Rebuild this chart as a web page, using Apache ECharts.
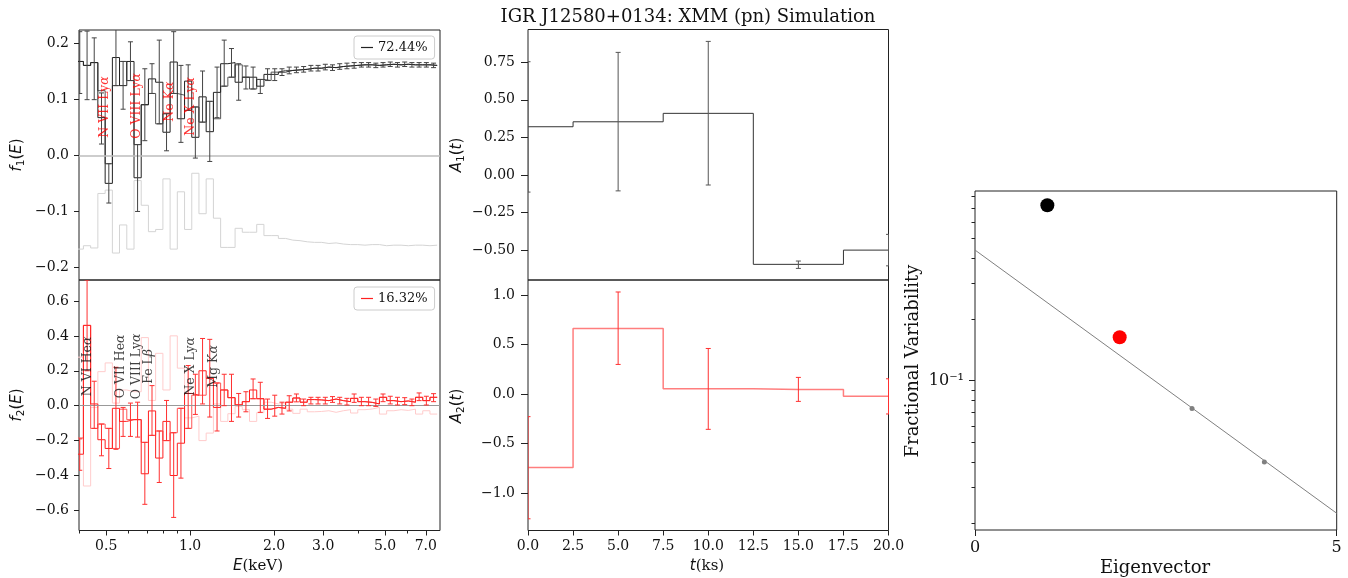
<!DOCTYPE html>
<html>
<head>
<meta charset="utf-8">
<script src="https://cdn.jsdelivr.net/npm/echarts@6/dist/echarts.min.js"></script>
<style>
html,body{margin:0;padding:0;background:#fff;}
#chart{width:1348px;height:578px;}
</style>
</head>
<body>
<div id="chart"></div>
<script>
// 能量 bin 中心 (keV)
var energy = [0.402,0.427,0.453,0.481,0.511,0.542,0.575,0.611,0.648,0.688,0.730,0.775,0.823,0.873,0.927,0.984,1.044,1.108,1.176,1.249,1.325,1.407,1.493,1.585,1.682,1.785,1.895,2.011,2.135,2.266,2.405,2.553,2.710,2.876,3.053,3.240,3.439,3.650,3.874,4.112,4.365,4.633,4.917,5.219,5.540,5.880,6.241,6.624,7.031,7.463];
// f1(E)
var f1 = [0.167,0.160,0.165,0.067,-0.050,0.174,0.124,0.167,-0.040,0.090,0.136,0.130,0.041,0.166,0.065,0.132,0.032,0.104,0.042,0.112,0.163,0.165,0.130,0.139,0.139,0.123,0.144,0.144,0.148,0.151,0.152,0.153,0.155,0.155,0.157,0.156,0.158,0.159,0.160,0.161,0.161,0.160,0.161,0.162,0.161,0.162,0.161,0.161,0.161,0.160];
var f1Edge = [0.167,0.160,0.165,0.115,-0.015,0.124,0.167,0.133,0.019,0.090,0.110,0.056,0.074,0.110,0.107,0.080,0.086,0.059,0.096,0.065,0.123,0.139,0.161,0.139,0.118,0.135,0.133,0.148,0.151,0.151,0.152,0.153,0.155,0.155,0.157,0.156,0.158,0.159,0.160,0.161,0.161,0.160,0.161,0.162,0.161,0.162,0.161,0.161,0.161,0.160];
var f1Lo = [0.110,0.099,0.099,0.020,-0.085,0.124,0.082,0.133,-0.100,0.026,0.110,0.056,0.008,0.110,0.023,0.080,-0.005,0.059,-0.011,0.067,0.123,0.139,0.098,0.118,0.118,0.110,0.133,0.133,0.142,0.145,0.147,0.148,0.150,0.150,0.152,0.151,0.153,0.154,0.155,0.157,0.157,0.156,0.157,0.158,0.157,0.158,0.157,0.157,0.157,0.156];
var f1Hi = [0.220,0.221,0.209,0.111,-0.015,0.230,0.167,0.202,0.019,0.154,0.163,0.205,0.074,0.220,0.160,0.161,0.086,0.150,0.096,0.157,0.205,0.190,0.163,0.159,0.157,0.135,0.154,0.154,0.154,0.157,0.157,0.158,0.160,0.160,0.162,0.161,0.163,0.164,0.165,0.165,0.165,0.164,0.165,0.166,0.165,0.166,0.165,0.165,0.165,0.164];
var f1Ref = [-0.167,-0.161,-0.165,-0.068,-0.062,-0.174,-0.124,-0.167,-0.045,-0.089,-0.136,-0.132,-0.042,-0.167,-0.065,-0.132,-0.032,-0.104,-0.042,-0.112,-0.164,-0.164,-0.130,-0.137,-0.137,-0.123,-0.143,-0.143,-0.148,-0.151,-0.152,-0.154,-0.155,-0.155,-0.157,-0.156,-0.158,-0.159,-0.159,-0.160,-0.159,-0.159,-0.161,-0.160,-0.160,-0.161,-0.160,-0.160,-0.161,-0.160];
// f2(E)
var f2 = [-0.278,0.460,0.010,-0.195,-0.245,-0.015,-0.090,-0.080,-0.080,-0.390,-0.030,-0.300,-0.090,-0.400,-0.215,0.070,0.060,0.200,0.157,-0.010,0.090,0.046,0.005,0.023,0.090,0.040,-0.020,-0.010,-0.015,0.020,0.044,0.020,0.035,0.033,0.029,0.038,0.029,0.023,0.042,0.023,0.019,0.010,0.048,0.029,0.023,0.027,0.020,0.048,0.029,0.048];
var f2Edge = [-0.185,0.460,-0.130,-0.105,-0.130,-0.245,-0.020,-0.080,-0.080,-0.210,-0.170,-0.145,-0.200,-0.155,-0.015,-0.130,0.060,0.060,0.157,0.130,0.090,0.046,0.005,0.023,0.040,0.040,-0.020,-0.010,-0.015,0.020,0.044,0.020,0.035,0.033,0.029,0.038,0.029,0.023,0.042,0.023,0.019,0.010,0.048,0.029,0.023,0.027,0.020,0.048,0.029,0.048];
var f2Lo = [-0.370,0.200,-0.130,-0.287,-0.360,-0.250,-0.176,-0.176,-0.180,-0.565,-0.170,-0.440,-0.200,-0.640,-0.415,-0.130,-0.050,0.010,-0.065,-0.145,0.000,-0.090,-0.065,-0.035,0.040,-0.038,-0.073,-0.060,-0.048,-0.030,0.022,0.000,0.010,0.010,0.010,0.019,0.010,0.004,0.019,0.000,0.000,-0.004,0.023,0.010,0.004,0.006,0.000,0.029,0.004,0.023];
var f2Hi = [-0.190,0.720,0.140,-0.105,-0.130,0.220,-0.010,0.015,0.020,-0.210,0.115,-0.145,0.030,-0.155,-0.015,0.230,0.180,0.385,0.380,0.130,0.180,0.180,0.070,0.080,0.153,0.134,0.038,0.060,0.020,0.057,0.067,0.038,0.048,0.048,0.048,0.052,0.048,0.042,0.067,0.048,0.048,0.038,0.067,0.054,0.048,0.046,0.038,0.073,0.054,0.069];
var f2Ref = [0.278,-0.460,-0.010,0.195,0.245,0.015,0.090,0.080,0.080,0.390,0.030,0.300,0.090,0.400,0.215,-0.070,-0.060,-0.200,-0.157,0.010,-0.090,-0.046,-0.005,-0.023,-0.090,-0.040,0.020,0.010,0.015,-0.020,-0.044,-0.020,-0.035,-0.033,-0.029,-0.038,-0.029,-0.023,-0.042,-0.023,-0.019,-0.010,-0.048,-0.029,-0.023,-0.027,-0.020,-0.048,-0.029,-0.048];

// 谱线标注
var lineTop = ['N VII Ly','O VIII Ly','Ne K','Ne X Ly'];
var lineTopGreek = ['α','α','α','α'];
var lineTopE = [0.494,0.646,0.848,1.008];
var lineTopY = [0.086,0.088,0.0955,0.087];
var lineBot = ['N VI He','O VII He','O VIII Ly','Fe L','Ne X Ly','Mg K'];
var lineBotGreek = ['α','α','α','β','α','α'];
var lineBotE = [0.428,0.566,0.646,0.713,1.008,1.219];
var lineBotY = [0.225,0.225,0.225,0.225,0.225,0.225];

// 时间轴 A(t)
var tBins = [0,5,10,15,20];
var a1 = [0.321,0.354,0.410,-0.593,-0.4985];
var a1Lo = [-0.113,-0.105,-0.066,-0.620,-0.603];
var a1Hi = [0.753,0.815,0.888,-0.571,-0.394];
var a2 = [-0.742,0.662,0.053,0.047,-0.023];
var a2Lo = [-1.259,0.299,-0.356,-0.074,-0.201];
var a2Hi = [-0.228,1.030,0.460,0.168,0.154];

// 特征值
var eigIdx = [1,2,3,4];
var eigFrac = [0.7244,0.1632,0.0730,0.0400];
var fitX = [0,5];
var fitY = [0.437,0.0224];

var legendText = ['72.44%','16.32%'];
var eTicks = [0.5,1,2,3,5,7];
var eMinor = [0.4,0.6,0.7,0.8,0.9,4,6];
var fvMinor = [0.02,0.03,0.04,0.05,0.06,0.07,0.08,0.09,0.2,0.3,0.4,0.5,0.6,0.7,0.8];

var SERIF = 'DejaVu Serif';
var SANS = 'DejaVu Sans';
var TICK = 14;
function lg(v){ return Math.log10(v); }
function minus(s){ return String(s).replace('-', '\u2212'); }

//log空间bin边界
var logE = energy.map(lg);
var edges = [];
for (var i = 0; i <= logE.length; i++)
{
	if (i == 0) edges.push(logE[0] - (logE[1] - logE[0]) / 2);
	else if (i == logE.length) edges.push(logE[i-1] + (logE[i-1] - logE[i-2]) / 2);
	else edges.push((logE[i-1] + logE[i]) / 2);
}
function histo(vals)
{
	var d = [];
	for (var i = 0; i < vals.length; i++)
	{
		d.push([edges[i], vals[i]]);
		d.push([edges[i+1], vals[i]]);
	}
	return d;
}
function zip3(x, lo, hi){ return x.map(function(v, i){ return [v, lo[i], hi[i]]; }); }

function errSeries(xi, yi, data, color, cap)
{
	return {
		type: 'custom', xAxisIndex: xi, yAxisIndex: yi, data: data, clip: true, silent: true, z: 6,
		encode: {x: 0, y: [1, 2]},
		renderItem: function(params, api)
		{
			var p1 = api.coord([api.value(0), api.value(1)]);
			var p2 = api.coord([api.value(0), api.value(2)]);
			var st = {stroke: color, lineWidth: 1};
			return {type: 'group', children: [
				{type: 'line', shape: {x1: p1[0], y1: p1[1], x2: p2[0], y2: p2[1]}, style: st},
				{type: 'line', shape: {x1: p1[0]-cap, y1: p1[1], x2: p1[0]+cap, y2: p1[1]}, style: st},
				{type: 'line', shape: {x1: p2[0]-cap, y1: p2[1], x2: p2[0]+cap, y2: p2[1]}, style: st}
			]};
		}
	};
}
function stepSeries(xi, yi, data, color, width, name)
{
	var s = {type: 'line', xAxisIndex: xi, yAxisIndex: yi, data: data, symbol: 'none', silent: true,
		lineStyle: {color: color, width: width}, itemStyle: {color: color}, z: 3};
	if (name) s.name = name;
	return s;
}
function zeroLine(color, width)
{
	return {silent: true, symbol: 'none', label: {show: false}, animation: false,
		lineStyle: {color: color, width: width, type: 'solid'}, data: [{yAxis: 0}]};
}
function annot(xi, yi, names, greek, es, ys, color)
{
	return {
		type: 'scatter', xAxisIndex: xi, yAxisIndex: yi, symbolSize: 0, silent: true, z: 8,
		data: names.map(function(n, i){ return [lg(es[i]), ys[i], n, greek[i]]; }),
		label: {show: true, position: 'inside', rotate: 90, color: color,
			formatter: function(p){ return '{a|' + p.data[2] + '}{g|' + p.data[3] + '}'; },
			rich: {a: {fontFamily: SERIF, fontSize: 12.5, color: color},
			       g: {fontFamily: SERIF, fontSize: 12.5, fontStyle: 'italic', color: color}}}
	};
}

var EMIN = lg(0.3995), EMAX = lg(7.87);
var FMIN = lg(0.01854), FMAX = lg(0.851);

function xLog(grid, withLabels)
{
	return {type: 'value', gridIndex: grid, min: EMIN, max: EMAX, position: 'bottom',
		axisLine: {show: false, onZero: false}, splitLine: {show: false},
		axisTick: {show: withLabels, length: 5, customValues: eTicks.map(lg), lineStyle: {color: '#222'}},
		axisLabel: {show: withLabels, customValues: eTicks.map(lg), margin: 9,
			formatter: function(v){ return Math.pow(10, v).toFixed(1); }, fontFamily: SERIF, fontSize: TICK, color: '#111'}};
}
function yLin(grid, min, max, ticks, dec, margin, tickLen)
{
	return {type: 'value', gridIndex: grid, min: min, max: max, position: 'left',
		axisLine: {show: false, onZero: false}, splitLine: {show: false},
		axisTick: {show: true, length: tickLen, customValues: ticks, lineStyle: {color: '#222'}},
		axisLabel: {customValues: ticks, margin: margin, fontFamily: SERIF, fontSize: TICK, color: '#111',
			formatter: function(v){ return minus(v.toFixed(dec)); }}};
}
function sub(main, s, tail)
{
	return '{i|' + main + '}{s|' + s + '}{n|(}{i|' + tail + '}{n|)}';
}
var mathRich = {
	i: {fontFamily: SANS, fontStyle: 'italic', fontSize: 15, color: '#111', lineHeight: 19},
	s: {fontFamily: SANS, fontSize: 10.5, color: '#111', verticalAlign: 'bottom', lineHeight: 10},
	n: {fontFamily: SANS, fontSize: 15, color: '#111', lineHeight: 19},
	r: {fontFamily: SERIF, fontSize: 15, color: '#111', lineHeight: 19}
};
function gText(x, y, text, rot, rich, font, size)
{
	var st = {text: text, align: 'center', verticalAlign: 'middle', fill: '#111'};
	if (rich) st.rich = rich;
	else { st.font = size + 'px "' + font + '"'; }
	return {type: 'text', x: x, y: y, rotation: rot, silent: true, style: st};
}

var chart = echarts.init(document.getElementById('chart'));
var option = {
	animation: false,
	backgroundColor: '#fff',
	grid: [
		{left: 79, top: 30, width: 361, height: 250, show: true, borderColor: '#222', borderWidth: 1},
		{left: 79, top: 280, width: 361, height: 250.5, show: true, borderColor: '#222', borderWidth: 1},
		{left: 528, top: 29.5, width: 360.5, height: 250.5, show: true, borderColor: '#222', borderWidth: 1},
		{left: 528, top: 280, width: 360.5, height: 250.5, show: true, borderColor: '#222', borderWidth: 1},
		{left: 975, top: 191, width: 361.7, height: 339, show: true, borderColor: '#222', borderWidth: 1}
	],
	xAxis: [
		xLog(0, false),
		xLog(1, true),
		{type: 'value', gridIndex: 2, min: 0, max: 20, axisLine: {show: false, onZero: false}, splitLine: {show: false},
			axisTick: {show: false}, axisLabel: {show: false}},
		{type: 'value', gridIndex: 3, min: 0, max: 20, interval: 2.5, axisLine: {show: false, onZero: false}, splitLine: {show: false},
			axisTick: {length: 5, lineStyle: {color: '#222'}},
			axisLabel: {margin: 9, fontFamily: SERIF, fontSize: TICK, color: '#111', showMaxLabel: true,
				formatter: function(v){ return v.toFixed(1); }}},
		{type: 'value', gridIndex: 4, min: 0, max: 5, interval: 5, axisLine: {show: false, onZero: false}, splitLine: {show: false},
			axisTick: {length: 6, lineStyle: {color: '#222'}},
			axisLabel: {margin: 10, fontFamily: SERIF, fontSize: 16, color: '#111'}},
		{type: 'value', gridIndex: 1, min: EMIN, max: EMAX, position: 'bottom',
			axisLine: {show: false, onZero: false}, splitLine: {show: false}, axisLabel: {show: false},
			axisTick: {show: true, length: 3, customValues: eMinor.map(lg), lineStyle: {color: '#222'}}}
	],
	yAxis: [
		yLin(0, -0.222, 0.223, [-0.2,-0.1,0,0.1,0.2], 1, 10, 5),
		yLin(1, -0.715, 0.72, [-0.6,-0.4,-0.2,0,0.2,0.4,0.6], 1, 10, 5),
		yLin(2, -0.697, 0.967, [-0.5,-0.25,0,0.25,0.5,0.75], 2, 13, 7),
		yLin(3, -1.377, 1.151, [-1,-0.5,0,0.5,1], 1, 13, 7),
		{type: 'value', gridIndex: 4, min: FMIN, max: FMAX, position: 'left',
			axisLine: {show: false, onZero: false}, splitLine: {show: false},
			axisTick: {length: 6, customValues: [-1], lineStyle: {color: '#222'}},
			axisLabel: {customValues: [-1], margin: 11, fontFamily: SERIF, fontSize: 16, color: '#111',
				formatter: function(){ return '10\u207B\u00B9'; }}},
		{type: 'value', gridIndex: 4, min: FMIN, max: FMAX, position: 'left',
			axisLine: {show: false, onZero: false}, splitLine: {show: false}, axisLabel: {show: false},
			axisTick: {length: 3.5, customValues: fvMinor.map(lg), lineStyle: {color: '#222'}}}
	],
	legend: [
		{data: [{name: legendText[0]}], left: 354, top: 36, icon: 'rect', itemWidth: 12, itemHeight: 1.2,
			padding: [5, 7, 5, 7], borderColor: '#ccc', borderWidth: 1, borderRadius: 3,
			backgroundColor: 'rgba(255,255,255,0.85)', selectedMode: false,
			textStyle: {fontFamily: SERIF, fontSize: 13, color: '#111'}},
		{data: [{name: legendText[1]}], left: 354, top: 287, icon: 'rect', itemWidth: 12, itemHeight: 1.2,
			padding: [5, 7, 5, 7], borderColor: '#ccc', borderWidth: 1, borderRadius: 3,
			backgroundColor: 'rgba(255,255,255,0.85)', selectedMode: false,
			textStyle: {fontFamily: SERIF, fontSize: 13, color: '#111'}}
	],
	graphic: [
		gText(688, 17, 'IGR J12580+0134: XMM (pn) Simulation', 0, null, SERIF, 18),
		gText(17, 155, sub('f', '1', 'E'), Math.PI/2, mathRich),
		gText(17, 405, sub('f', '2', 'E'), Math.PI/2, mathRich),
		gText(457, 155, sub('A', '1', 't'), Math.PI/2, mathRich),
		gText(457, 406, sub('A', '2', 't'), Math.PI/2, mathRich),
		gText(258, 566, '{i|E}{r|(keV)}', 0, mathRich),
		gText(707, 566, '{i|t}{r|(ks)}', 0, mathRich),
		gText(1155, 568, 'Eigenvector', 0, null, SERIF, 18),
		gText(913, 361, 'Fractional Variability', Math.PI/2, null, SERIF, 18)
	],
	series: []
};

var s = option.series;
//左上 f1
var ref1 = stepSeries(0, 0, histo(f1Ref), '#d4d4d4', 1);
ref1.markLine = zeroLine('#bdbdbd', 1.5);
ref1.z = 2;
s.push(ref1);
s.push(stepSeries(0, 0, histo(f1Edge), '#555', 1));
s.push(stepSeries(0, 0, histo(f1), '#222', 1, legendText[0]));
s.push(errSeries(0, 0, zip3(logE, f1Lo, f1Hi), '#444', 2.5));
s.push(annot(0, 0, lineTop, lineTopGreek, lineTopE, lineTopY, '#ff0000'));
//左下 f2
var ref2 = stepSeries(1, 1, histo(f2Ref), '#ffcccc', 1);
ref2.markLine = zeroLine('#999', 1);
ref2.z = 2;
s.push(ref2);
s.push(stepSeries(1, 1, histo(f2Edge), '#ff5555', 1));
s.push(stepSeries(1, 1, histo(f2), '#ff2020', 1, legendText[1]));
s.push(errSeries(1, 1, zip3(logE, f2Lo, f2Hi), '#ff3030', 2.5));
s.push(annot(1, 1, lineBot, lineBotGreek, lineBotE, lineBotY, '#111'));
//中间 A1 A2
var a1Line = stepSeries(2, 2, tBins.map(function(t, i){ return [t, a1[i]]; }), '#333', 1);
a1Line.step = 'middle';
s.push(a1Line);
s.push(errSeries(2, 2, zip3(tBins, a1Lo, a1Hi), '#555', 2.5));
var a2Line = stepSeries(3, 3, tBins.map(function(t, i){ return [t, a2[i]]; }), 'rgba(255,40,40,0.6)', 1.5);
a2Line.step = 'middle';
s.push(a2Line);
s.push(errSeries(3, 3, zip3(tBins, a2Lo, a2Hi), '#ff3030', 2.5));
//右 特征值
s.push({type: 'line', xAxisIndex: 4, yAxisIndex: 4, symbol: 'none', silent: true, z: 3,
	data: fitX.map(function(x, i){ return [x, lg(fitY[i])]; }),
	lineStyle: {color: '#808080', width: 1}});
s.push({type: 'scatter', xAxisIndex: 4, yAxisIndex: 4, silent: true, z: 5,
	data: eigIdx.map(function(x, i){
		var big = i < 2;
		return {value: [x, lg(eigFrac[i])], symbolSize: big ? 14 : 5,
			itemStyle: {opacity: 1, color: i == 0 ? '#000' : (i == 1 ? '#ff0000' : '#808080')}};
	})});

chart.setOption(option);
</script>
</body>
</html>
